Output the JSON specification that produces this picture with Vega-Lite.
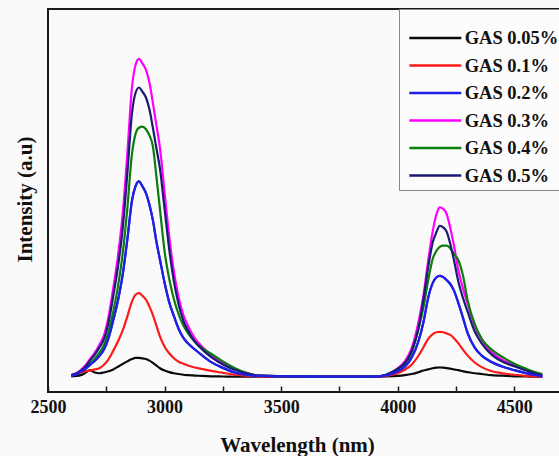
{
"$schema":"https://vega.github.io/schema/vega-lite/v6.json",
"width":513,"height":383,
"autosize":{"type":"none"},
"padding":{"left":48,"top":9,"right":0,"bottom":64},
"background":"#fafafa",
"config":{"view":{"stroke":"#1a1a1a","strokeWidth":2},"font":"Liberation Serif"},
"data":{"values":[
{"w":2600,"s":"GAS 0.05%","v":4.1},{"w":2620,"s":"GAS 0.05%","v":4.2},{"w":2640,"s":"GAS 0.05%","v":4.4},{"w":2660,"s":"GAS 0.05%","v":5.0},{"w":2680,"s":"GAS 0.05%","v":5.7},{"w":2700,"s":"GAS 0.05%","v":5.1},{"w":2720,"s":"GAS 0.05%","v":4.9},{"w":2740,"s":"GAS 0.05%","v":5.1},{"w":2760,"s":"GAS 0.05%","v":5.4},{"w":2780,"s":"GAS 0.05%","v":5.9},{"w":2800,"s":"GAS 0.05%","v":6.6},{"w":2820,"s":"GAS 0.05%","v":7.3},{"w":2840,"s":"GAS 0.05%","v":8.0},{"w":2860,"s":"GAS 0.05%","v":8.6},{"w":2875,"s":"GAS 0.05%","v":8.9},{"w":2890,"s":"GAS 0.05%","v":8.9},{"w":2905,"s":"GAS 0.05%","v":8.8},{"w":2920,"s":"GAS 0.05%","v":8.6},{"w":2935,"s":"GAS 0.05%","v":8.2},{"w":2950,"s":"GAS 0.05%","v":7.6},{"w":2965,"s":"GAS 0.05%","v":6.9},{"w":2980,"s":"GAS 0.05%","v":6.2},{"w":3000,"s":"GAS 0.05%","v":5.6},{"w":3020,"s":"GAS 0.05%","v":5.2},{"w":3040,"s":"GAS 0.05%","v":4.9},{"w":3060,"s":"GAS 0.05%","v":4.7},{"w":3080,"s":"GAS 0.05%","v":4.5},{"w":3100,"s":"GAS 0.05%","v":4.4},{"w":3130,"s":"GAS 0.05%","v":4.3},{"w":3160,"s":"GAS 0.05%","v":4.2},{"w":3200,"s":"GAS 0.05%","v":4.1},{"w":3250,"s":"GAS 0.05%","v":4.05},{"w":3300,"s":"GAS 0.05%","v":4.0},{"w":3350,"s":"GAS 0.05%","v":4.0},{"w":3400,"s":"GAS 0.05%","v":4.0},{"w":3650,"s":"GAS 0.05%","v":4.0},{"w":3900,"s":"GAS 0.05%","v":4.0},{"w":3950,"s":"GAS 0.05%","v":4.05},{"w":4000,"s":"GAS 0.05%","v":4.2},{"w":4030,"s":"GAS 0.05%","v":4.4},{"w":4060,"s":"GAS 0.05%","v":4.7},{"w":4090,"s":"GAS 0.05%","v":5.2},{"w":4110,"s":"GAS 0.05%","v":5.6},{"w":4130,"s":"GAS 0.05%","v":5.9},{"w":4150,"s":"GAS 0.05%","v":6.2},{"w":4165,"s":"GAS 0.05%","v":6.35},{"w":4180,"s":"GAS 0.05%","v":6.4},{"w":4195,"s":"GAS 0.05%","v":6.35},{"w":4210,"s":"GAS 0.05%","v":6.25},{"w":4225,"s":"GAS 0.05%","v":6.1},{"w":4240,"s":"GAS 0.05%","v":5.9},{"w":4260,"s":"GAS 0.05%","v":5.7},{"w":4280,"s":"GAS 0.05%","v":5.4},{"w":4300,"s":"GAS 0.05%","v":5.2},{"w":4330,"s":"GAS 0.05%","v":4.9},{"w":4360,"s":"GAS 0.05%","v":4.7},{"w":4400,"s":"GAS 0.05%","v":4.4},{"w":4450,"s":"GAS 0.05%","v":4.25},{"w":4500,"s":"GAS 0.05%","v":4.1},{"w":4550,"s":"GAS 0.05%","v":4.05},{"w":4600,"s":"GAS 0.05%","v":4.0},{"w":4620,"s":"GAS 0.05%","v":4.0},
{"w":2600,"s":"GAS 0.1%","v":4.4},{"w":2620,"s":"GAS 0.1%","v":4.8},{"w":2640,"s":"GAS 0.1%","v":5.1},{"w":2660,"s":"GAS 0.1%","v":5.4},{"w":2680,"s":"GAS 0.1%","v":5.6},{"w":2700,"s":"GAS 0.1%","v":5.9},{"w":2720,"s":"GAS 0.1%","v":6.2},{"w":2740,"s":"GAS 0.1%","v":7.1},{"w":2760,"s":"GAS 0.1%","v":8.6},{"w":2780,"s":"GAS 0.1%","v":10.8},{"w":2800,"s":"GAS 0.1%","v":13.2},{"w":2820,"s":"GAS 0.1%","v":16.0},{"w":2840,"s":"GAS 0.1%","v":19.7},{"w":2860,"s":"GAS 0.1%","v":23.6},{"w":2875,"s":"GAS 0.1%","v":25.4},{"w":2890,"s":"GAS 0.1%","v":25.8},{"w":2905,"s":"GAS 0.1%","v":25.1},{"w":2920,"s":"GAS 0.1%","v":24.1},{"w":2935,"s":"GAS 0.1%","v":22.3},{"w":2950,"s":"GAS 0.1%","v":20.1},{"w":2965,"s":"GAS 0.1%","v":17.3},{"w":2980,"s":"GAS 0.1%","v":14.5},{"w":3000,"s":"GAS 0.1%","v":11.8},{"w":3020,"s":"GAS 0.1%","v":10.1},{"w":3040,"s":"GAS 0.1%","v":8.8},{"w":3060,"s":"GAS 0.1%","v":7.9},{"w":3080,"s":"GAS 0.1%","v":7.4},{"w":3100,"s":"GAS 0.1%","v":6.9},{"w":3130,"s":"GAS 0.1%","v":6.4},{"w":3160,"s":"GAS 0.1%","v":6.0},{"w":3200,"s":"GAS 0.1%","v":5.5},{"w":3250,"s":"GAS 0.1%","v":5.0},{"w":3300,"s":"GAS 0.1%","v":4.5},{"w":3350,"s":"GAS 0.1%","v":4.3},{"w":3400,"s":"GAS 0.1%","v":4.1},{"w":3650,"s":"GAS 0.1%","v":4.0},{"w":3900,"s":"GAS 0.1%","v":4.0},{"w":3950,"s":"GAS 0.1%","v":4.2},{"w":4000,"s":"GAS 0.1%","v":4.9},{"w":4030,"s":"GAS 0.1%","v":5.8},{"w":4060,"s":"GAS 0.1%","v":7.2},{"w":4090,"s":"GAS 0.1%","v":9.6},{"w":4110,"s":"GAS 0.1%","v":11.7},{"w":4130,"s":"GAS 0.1%","v":13.8},{"w":4150,"s":"GAS 0.1%","v":15.1},{"w":4165,"s":"GAS 0.1%","v":15.6},{"w":4180,"s":"GAS 0.1%","v":15.7},{"w":4195,"s":"GAS 0.1%","v":15.6},{"w":4210,"s":"GAS 0.1%","v":15.3},{"w":4225,"s":"GAS 0.1%","v":14.9},{"w":4240,"s":"GAS 0.1%","v":14.1},{"w":4260,"s":"GAS 0.1%","v":12.7},{"w":4280,"s":"GAS 0.1%","v":11.0},{"w":4300,"s":"GAS 0.1%","v":9.5},{"w":4330,"s":"GAS 0.1%","v":7.7},{"w":4360,"s":"GAS 0.1%","v":6.5},{"w":4400,"s":"GAS 0.1%","v":5.5},{"w":4450,"s":"GAS 0.1%","v":4.9},{"w":4500,"s":"GAS 0.1%","v":4.5},{"w":4550,"s":"GAS 0.1%","v":4.2},{"w":4600,"s":"GAS 0.1%","v":4.0},{"w":4620,"s":"GAS 0.1%","v":4.0},
{"w":2600,"s":"GAS 0.2%","v":4.3},{"w":2620,"s":"GAS 0.2%","v":4.6},{"w":2640,"s":"GAS 0.2%","v":5.3},{"w":2660,"s":"GAS 0.2%","v":6.0},{"w":2680,"s":"GAS 0.2%","v":7.1},{"w":2700,"s":"GAS 0.2%","v":8.1},{"w":2720,"s":"GAS 0.2%","v":9.4},{"w":2740,"s":"GAS 0.2%","v":11.1},{"w":2760,"s":"GAS 0.2%","v":14.2},{"w":2780,"s":"GAS 0.2%","v":18.8},{"w":2800,"s":"GAS 0.2%","v":23.9},{"w":2820,"s":"GAS 0.2%","v":30.5},{"w":2840,"s":"GAS 0.2%","v":39.7},{"w":2860,"s":"GAS 0.2%","v":49.9},{"w":2875,"s":"GAS 0.2%","v":53.7},{"w":2890,"s":"GAS 0.2%","v":55.0},{"w":2905,"s":"GAS 0.2%","v":53.7},{"w":2920,"s":"GAS 0.2%","v":51.9},{"w":2935,"s":"GAS 0.2%","v":48.9},{"w":2950,"s":"GAS 0.2%","v":44.8},{"w":2965,"s":"GAS 0.2%","v":39.2},{"w":2980,"s":"GAS 0.2%","v":34.6},{"w":3000,"s":"GAS 0.2%","v":28.5},{"w":3020,"s":"GAS 0.2%","v":23.4},{"w":3040,"s":"GAS 0.2%","v":19.8},{"w":3060,"s":"GAS 0.2%","v":16.5},{"w":3080,"s":"GAS 0.2%","v":14.2},{"w":3100,"s":"GAS 0.2%","v":12.7},{"w":3130,"s":"GAS 0.2%","v":11.1},{"w":3160,"s":"GAS 0.2%","v":9.6},{"w":3200,"s":"GAS 0.2%","v":7.8},{"w":3250,"s":"GAS 0.2%","v":6.3},{"w":3300,"s":"GAS 0.2%","v":5.1},{"w":3350,"s":"GAS 0.2%","v":4.5},{"w":3400,"s":"GAS 0.2%","v":4.2},{"w":3650,"s":"GAS 0.2%","v":4.0},{"w":3900,"s":"GAS 0.2%","v":4.0},{"w":3950,"s":"GAS 0.2%","v":4.4},{"w":4000,"s":"GAS 0.2%","v":5.4},{"w":4030,"s":"GAS 0.2%","v":6.6},{"w":4060,"s":"GAS 0.2%","v":9.0},{"w":4090,"s":"GAS 0.2%","v":13.5},{"w":4110,"s":"GAS 0.2%","v":18.2},{"w":4130,"s":"GAS 0.2%","v":24.5},{"w":4150,"s":"GAS 0.2%","v":28.5},{"w":4165,"s":"GAS 0.2%","v":29.9},{"w":4180,"s":"GAS 0.2%","v":30.3},{"w":4195,"s":"GAS 0.2%","v":30.0},{"w":4210,"s":"GAS 0.2%","v":29.2},{"w":4225,"s":"GAS 0.2%","v":28.2},{"w":4240,"s":"GAS 0.2%","v":26.6},{"w":4260,"s":"GAS 0.2%","v":23.2},{"w":4280,"s":"GAS 0.2%","v":19.3},{"w":4300,"s":"GAS 0.2%","v":15.3},{"w":4330,"s":"GAS 0.2%","v":11.6},{"w":4360,"s":"GAS 0.2%","v":9.5},{"w":4400,"s":"GAS 0.2%","v":7.9},{"w":4450,"s":"GAS 0.2%","v":6.6},{"w":4500,"s":"GAS 0.2%","v":5.7},{"w":4550,"s":"GAS 0.2%","v":4.9},{"w":4600,"s":"GAS 0.2%","v":4.3},{"w":4620,"s":"GAS 0.2%","v":4.1},
{"w":2600,"s":"GAS 0.3%","v":4.4},{"w":2620,"s":"GAS 0.3%","v":4.8},{"w":2640,"s":"GAS 0.3%","v":5.7},{"w":2660,"s":"GAS 0.3%","v":6.9},{"w":2680,"s":"GAS 0.3%","v":8.6},{"w":2700,"s":"GAS 0.3%","v":10.2},{"w":2720,"s":"GAS 0.3%","v":12.3},{"w":2740,"s":"GAS 0.3%","v":14.8},{"w":2760,"s":"GAS 0.3%","v":19.8},{"w":2780,"s":"GAS 0.3%","v":27.2},{"w":2800,"s":"GAS 0.3%","v":35.5},{"w":2820,"s":"GAS 0.3%","v":46.3},{"w":2840,"s":"GAS 0.3%","v":62.1},{"w":2860,"s":"GAS 0.3%","v":79.5},{"w":2875,"s":"GAS 0.3%","v":85.3},{"w":2890,"s":"GAS 0.3%","v":87.0},{"w":2905,"s":"GAS 0.3%","v":85.8},{"w":2920,"s":"GAS 0.3%","v":84.1},{"w":2935,"s":"GAS 0.3%","v":80.8},{"w":2950,"s":"GAS 0.3%","v":75.4},{"w":2965,"s":"GAS 0.3%","v":69.6},{"w":2980,"s":"GAS 0.3%","v":63.8},{"w":3000,"s":"GAS 0.3%","v":52.1},{"w":3020,"s":"GAS 0.3%","v":40.5},{"w":3040,"s":"GAS 0.3%","v":31.4},{"w":3060,"s":"GAS 0.3%","v":24.8},{"w":3080,"s":"GAS 0.3%","v":20.2},{"w":3100,"s":"GAS 0.3%","v":17.3},{"w":3130,"s":"GAS 0.3%","v":14.0},{"w":3160,"s":"GAS 0.3%","v":11.9},{"w":3200,"s":"GAS 0.3%","v":9.6},{"w":3250,"s":"GAS 0.3%","v":7.6},{"w":3300,"s":"GAS 0.3%","v":6.0},{"w":3350,"s":"GAS 0.3%","v":5.0},{"w":3400,"s":"GAS 0.3%","v":4.3},{"w":3650,"s":"GAS 0.3%","v":4.0},{"w":3900,"s":"GAS 0.3%","v":4.0},{"w":3950,"s":"GAS 0.3%","v":4.5},{"w":4000,"s":"GAS 0.3%","v":6.2},{"w":4030,"s":"GAS 0.3%","v":8.0},{"w":4060,"s":"GAS 0.3%","v":11.5},{"w":4090,"s":"GAS 0.3%","v":18.6},{"w":4110,"s":"GAS 0.3%","v":25.2},{"w":4130,"s":"GAS 0.3%","v":34.1},{"w":4150,"s":"GAS 0.3%","v":42.0},{"w":4165,"s":"GAS 0.3%","v":46.2},{"w":4180,"s":"GAS 0.3%","v":48.2},{"w":4195,"s":"GAS 0.3%","v":47.8},{"w":4210,"s":"GAS 0.3%","v":46.4},{"w":4225,"s":"GAS 0.3%","v":42.9},{"w":4240,"s":"GAS 0.3%","v":38.5},{"w":4260,"s":"GAS 0.3%","v":31.8},{"w":4280,"s":"GAS 0.3%","v":27.0},{"w":4300,"s":"GAS 0.3%","v":23.0},{"w":4330,"s":"GAS 0.3%","v":17.3},{"w":4360,"s":"GAS 0.3%","v":13.7},{"w":4400,"s":"GAS 0.3%","v":10.6},{"w":4450,"s":"GAS 0.3%","v":8.4},{"w":4500,"s":"GAS 0.3%","v":7.0},{"w":4550,"s":"GAS 0.3%","v":5.8},{"w":4600,"s":"GAS 0.3%","v":4.7},{"w":4620,"s":"GAS 0.3%","v":4.35},
{"w":2600,"s":"GAS 0.4%","v":4.3},{"w":2620,"s":"GAS 0.4%","v":4.7},{"w":2640,"s":"GAS 0.4%","v":5.3},{"w":2660,"s":"GAS 0.4%","v":6.1},{"w":2680,"s":"GAS 0.4%","v":7.3},{"w":2700,"s":"GAS 0.4%","v":8.6},{"w":2720,"s":"GAS 0.4%","v":10.2},{"w":2740,"s":"GAS 0.4%","v":12.2},{"w":2760,"s":"GAS 0.4%","v":15.8},{"w":2780,"s":"GAS 0.4%","v":21.0},{"w":2800,"s":"GAS 0.4%","v":27.5},{"w":2820,"s":"GAS 0.4%","v":36.0},{"w":2840,"s":"GAS 0.4%","v":47.8},{"w":2860,"s":"GAS 0.4%","v":62.1},{"w":2875,"s":"GAS 0.4%","v":67.3},{"w":2890,"s":"GAS 0.4%","v":69.0},{"w":2905,"s":"GAS 0.4%","v":69.3},{"w":2920,"s":"GAS 0.4%","v":68.6},{"w":2935,"s":"GAS 0.4%","v":67.0},{"w":2950,"s":"GAS 0.4%","v":64.1},{"w":2965,"s":"GAS 0.4%","v":56.2},{"w":2980,"s":"GAS 0.4%","v":47.8},{"w":3000,"s":"GAS 0.4%","v":36.7},{"w":3020,"s":"GAS 0.4%","v":29.5},{"w":3040,"s":"GAS 0.4%","v":24.2},{"w":3060,"s":"GAS 0.4%","v":20.3},{"w":3080,"s":"GAS 0.4%","v":17.4},{"w":3100,"s":"GAS 0.4%","v":15.4},{"w":3130,"s":"GAS 0.4%","v":13.1},{"w":3160,"s":"GAS 0.4%","v":11.5},{"w":3200,"s":"GAS 0.4%","v":10.0},{"w":3250,"s":"GAS 0.4%","v":8.0},{"w":3300,"s":"GAS 0.4%","v":6.3},{"w":3350,"s":"GAS 0.4%","v":5.0},{"w":3400,"s":"GAS 0.4%","v":4.3},{"w":3650,"s":"GAS 0.4%","v":4.0},{"w":3900,"s":"GAS 0.4%","v":4.0},{"w":3950,"s":"GAS 0.4%","v":4.5},{"w":4000,"s":"GAS 0.4%","v":6.1},{"w":4030,"s":"GAS 0.4%","v":7.4},{"w":4060,"s":"GAS 0.4%","v":10.5},{"w":4090,"s":"GAS 0.4%","v":16.7},{"w":4110,"s":"GAS 0.4%","v":22.1},{"w":4130,"s":"GAS 0.4%","v":29.0},{"w":4150,"s":"GAS 0.4%","v":34.8},{"w":4165,"s":"GAS 0.4%","v":36.8},{"w":4180,"s":"GAS 0.4%","v":37.9},{"w":4195,"s":"GAS 0.4%","v":38.2},{"w":4210,"s":"GAS 0.4%","v":38.2},{"w":4225,"s":"GAS 0.4%","v":37.5},{"w":4240,"s":"GAS 0.4%","v":36.1},{"w":4260,"s":"GAS 0.4%","v":34.4},{"w":4280,"s":"GAS 0.4%","v":30.3},{"w":4300,"s":"GAS 0.4%","v":23.8},{"w":4330,"s":"GAS 0.4%","v":17.7},{"w":4360,"s":"GAS 0.4%","v":13.9},{"w":4400,"s":"GAS 0.4%","v":11.2},{"w":4450,"s":"GAS 0.4%","v":9.1},{"w":4500,"s":"GAS 0.4%","v":7.4},{"w":4550,"s":"GAS 0.4%","v":6.1},{"w":4600,"s":"GAS 0.4%","v":5.0},{"w":4620,"s":"GAS 0.4%","v":4.7},
{"w":2600,"s":"GAS 0.5%","v":4.4},{"w":2620,"s":"GAS 0.5%","v":4.8},{"w":2640,"s":"GAS 0.5%","v":5.5},{"w":2660,"s":"GAS 0.5%","v":6.6},{"w":2680,"s":"GAS 0.5%","v":8.2},{"w":2700,"s":"GAS 0.5%","v":9.7},{"w":2720,"s":"GAS 0.5%","v":11.6},{"w":2740,"s":"GAS 0.5%","v":13.8},{"w":2760,"s":"GAS 0.5%","v":18.3},{"w":2780,"s":"GAS 0.5%","v":25.1},{"w":2800,"s":"GAS 0.5%","v":32.7},{"w":2820,"s":"GAS 0.5%","v":42.5},{"w":2840,"s":"GAS 0.5%","v":56.9},{"w":2860,"s":"GAS 0.5%","v":72.7},{"w":2875,"s":"GAS 0.5%","v":78.0},{"w":2890,"s":"GAS 0.5%","v":79.5},{"w":2905,"s":"GAS 0.5%","v":78.4},{"w":2920,"s":"GAS 0.5%","v":76.9},{"w":2935,"s":"GAS 0.5%","v":73.8},{"w":2950,"s":"GAS 0.5%","v":68.9},{"w":2965,"s":"GAS 0.5%","v":63.6},{"w":2980,"s":"GAS 0.5%","v":58.4},{"w":3000,"s":"GAS 0.5%","v":47.8},{"w":3020,"s":"GAS 0.5%","v":37.2},{"w":3040,"s":"GAS 0.5%","v":28.9},{"w":3060,"s":"GAS 0.5%","v":22.9},{"w":3080,"s":"GAS 0.5%","v":18.7},{"w":3100,"s":"GAS 0.5%","v":16.1},{"w":3130,"s":"GAS 0.5%","v":13.1},{"w":3160,"s":"GAS 0.5%","v":11.2},{"w":3200,"s":"GAS 0.5%","v":9.1},{"w":3250,"s":"GAS 0.5%","v":7.2},{"w":3300,"s":"GAS 0.5%","v":5.8},{"w":3350,"s":"GAS 0.5%","v":4.9},{"w":3400,"s":"GAS 0.5%","v":4.3},{"w":3650,"s":"GAS 0.5%","v":4.0},{"w":3900,"s":"GAS 0.5%","v":4.0},{"w":3950,"s":"GAS 0.5%","v":4.5},{"w":4000,"s":"GAS 0.5%","v":6.0},{"w":4030,"s":"GAS 0.5%","v":7.5},{"w":4060,"s":"GAS 0.5%","v":10.7},{"w":4090,"s":"GAS 0.5%","v":17.0},{"w":4110,"s":"GAS 0.5%","v":24.1},{"w":4130,"s":"GAS 0.5%","v":32.4},{"w":4150,"s":"GAS 0.5%","v":39.1},{"w":4165,"s":"GAS 0.5%","v":41.6},{"w":4180,"s":"GAS 0.5%","v":43.4},{"w":4195,"s":"GAS 0.5%","v":43.0},{"w":4210,"s":"GAS 0.5%","v":41.8},{"w":4225,"s":"GAS 0.5%","v":38.7},{"w":4240,"s":"GAS 0.5%","v":34.7},{"w":4260,"s":"GAS 0.5%","v":28.8},{"w":4280,"s":"GAS 0.5%","v":24.5},{"w":4300,"s":"GAS 0.5%","v":20.9},{"w":4330,"s":"GAS 0.5%","v":15.8},{"w":4360,"s":"GAS 0.5%","v":12.7},{"w":4400,"s":"GAS 0.5%","v":9.9},{"w":4450,"s":"GAS 0.5%","v":7.9},{"w":4500,"s":"GAS 0.5%","v":6.7},{"w":4550,"s":"GAS 0.5%","v":5.6},{"w":4600,"s":"GAS 0.5%","v":4.6},{"w":4620,"s":"GAS 0.5%","v":4.3}
]},
"encoding":{
 "x":{"field":"w","type":"quantitative","title":"Wavelength (nm)","scale":{"domain":[2500,4700],"nice":false,"zero":false},
  "axis":{"values":[2500,2750,3000,3250,3500,3750,4000,4250,4500],"labelExpr":"datum.value % 500 === 0 ? datum.label : ''","format":"d","domain":false,"grid":false,"tickColor":"#1a1a1a","tickWidth":1.5,"tickSize":-6,"labelFlush":false,"labelOverlap":false,"labelFont":"Liberation Serif","labelFontWeight":"bold","labelFontSize":18,"labelColor":"#111111","labelPadding":12,"titleFont":"Liberation Serif","titleFontSize":21,"titleFontWeight":"bold","titleColor":"#111111","titleX":249,"titleY":53,"titleBaseline":"middle"}},
 "y":{"field":"v","type":"quantitative","title":"Intensity (a.u)","scale":{"domain":[0,100],"nice":false},
  "axis":{"domain":false,"ticks":false,"labels":false,"grid":false,"titleFont":"Liberation Serif","titleFontSize":21,"titleFontWeight":"bold","titleColor":"#111111","titleX":-23,"titleY":190,"titleAngle":270,"titleBaseline":"middle"}}
},
"layer":[
 {"mark":{"type":"line","strokeWidth":2.2,"interpolate":"monotone"},
  "encoding":{"color":{"field":"s","type":"nominal",
   "scale":{"domain":["GAS 0.05%","GAS 0.1%","GAS 0.2%","GAS 0.3%","GAS 0.4%","GAS 0.5%"],"range":["#0a0a0a","#ff1a1a","#1f1fe6","#ff00ff","#0a7d0a","#1a1a73"]},
   "legend":{"orient":"none","legendX":351,"legendY":0,"title":" ","titleFontSize":6,"titlePadding":8,"padding":5,"strokeColor":"#888888","fillColor":"#fcfcfc","symbolType":"M-0.54,0H5.46","symbolSize":300,"symbolStrokeWidth":2.5,"labelFont":"Liberation Serif","labelFontWeight":"bold","labelFontSize":18.5,"labelColor":"#111111","labelOffset":40.7,"rowPadding":7.5,"labelLimit":200}}}},
 {"transform":[{"filter":"datum.s === 'GAS 0.2%'"}],
  "mark":{"type":"line","strokeWidth":2.2,"interpolate":"monotone"},
  "encoding":{"color":{"field":"s","type":"nominal","legend":null}}}
]
}
